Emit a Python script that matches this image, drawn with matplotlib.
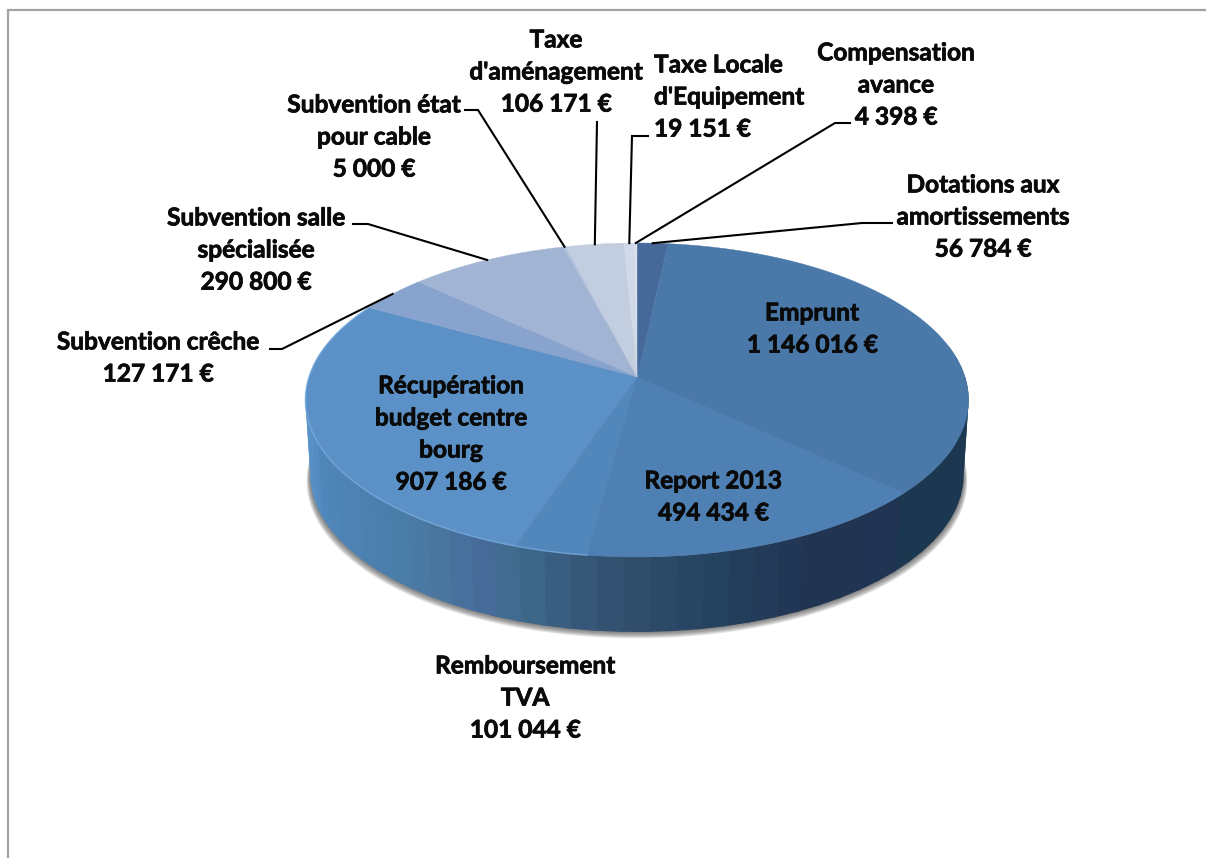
import matplotlib
matplotlib.use("Agg")
import matplotlib.pyplot as plt
import matplotlib.patheffects as pe
import numpy as np
from matplotlib.colors import to_rgb

plt.rcParams['font.family'] = ['Lato', 'DejaVu Sans']

# slices, clockwise from 12 o'clock
labels = ["Dotations aux\namortissements", "Emprunt", "Report 2013", "Remboursement\nTVA",
          "Récupération\nbudget centre\nbourg", "Subvention crêche", "Subvention salle\nspécialisée",
          "Subvention état\npour cable", "Taxe\nd'aménagement", "Taxe Locale\nd'Equipement",
          "Compensation\navance"]
amounts = [56784, 1146016, 494434, 101044, 907186, 127171, 290800, 5000, 106171, 19151, 4398]
amount_text = ["56 784 €", "1 146 016 €", "494 434 €", "101 044 €", "907 186 €", "127 171 €",
               "290 800 €", "5 000 €", "106 171 €", "19 151 €", "4 398 €"]
top_colors = ["#46699a", "#4a78a8", "#4f80b3", "#5287bc", "#5b91c6", "#87a3ce",
              "#a2b4d4", "#aebedb", "#c2cde0", "#d0d9e8", "#d8dfec"]

# label block centres in pixels
label_pos = [(983, 217), (812, 329), (713, 497), (525, 698), (451, 434), (158, 358),
             (256, 250), (374, 137), (556, 72), (654, 97), (896, 85)]
# leader line start + elbow, None when the label sits without a leader
leader_pts = [[(892, 223), (862, 223)], None, None, None, None,
              [(270, 349), (282, 349)], [(353, 224), (368, 224)],
              [(465, 110), (478, 110)], [(597, 122)], [(648, 136), (632, 136)],
              [(850, 123), (835, 123)]]

# colour of the side wall going left to right, in pixels
wall_x = [305, 323, 390, 430, 473, 517, 567, 623, 673, 723, 807, 901, 903, 975]
wall_c = ["#5a93c8", "#4f86b8", "#4a7daa", "#4a789f", "#486b9a", "#3f6b8c", "#37597b", "#324f6d",
          "#2a4866", "#24405c", "#213553", "#213453", "#1b3850", "#1b3850"]

# perspective of the disc
CX, CY = 637, 377
A, B, K = 328, 153.6, 0.1465
DEPTH = 75


def project(theta, scale=1.0, drop=0):
    # theta in degrees clockwise from the top of the disc
    t = np.radians(theta)
    u, v = np.sin(t), np.cos(t)
    w = 1 + K * v
    return CX + scale * A * u / w, CY - B * v / w + drop


def wall_color(x):
    xs = np.array(wall_x)
    cs = np.array([to_rgb(c) for c in wall_c])
    return [np.interp(x, xs, cs[:, i]) for i in range(3)]


fig = plt.figure(figsize=(12.06, 8.58), dpi=100)
ax = fig.add_axes([0, 0, 1, 1])
ax.set_xlim(0, 1206)
ax.set_ylim(858, 0)
ax.axis('off')

# frame of the original, only left and top show
ax.plot([8, 8, 1206], [858, 10, 10], color="#a3a3a3", lw=1.6, solid_joinstyle='miter')

# soft shadow under the wall
circle = np.linspace(0, 360, 361)
for i in range(7, 0, -1):
    sx, sy = project(circle, scale=0.985 + i * 0.0016, drop=DEPTH + i * 0.9)
    ax.fill(sx, sy, color="#444444", alpha=0.13, lw=0)

# side wall as strips, overlapping so no seams show
edge = np.arange(78, 284, 4.0)
for a0, a1 in zip(edge[:-1], edge[1:]):
    mid = np.linspace(a0, a1 + 1.0, 8)
    tx, ty = project(mid)
    bx, by = project(mid[::-1], scale=0.985, drop=DEPTH)
    c = wall_color(tx.mean())
    ax.fill(np.r_[tx, bx], np.r_[ty, by], color=c, lw=0)

# top of the disc
angles = 360 * np.cumsum([0] + amounts) / sum(amounts)
for i in range(len(amounts)):
    arc = np.linspace(angles[i], angles[i + 1], 80)
    ax_x, ax_y = project(arc)
    ax.fill(np.r_[CX, ax_x], np.r_[CY, ax_y], color=top_colors[i], lw=0.3)

# light edge along the front left of the rim
arc = np.linspace(angles[3], angles[5], 160)
rx, ry = project(arc)
ax.plot(rx, ry, color="#7db0e4", lw=1.1, alpha=0.65)

# leaders end on the rim at the middle of their slice
for i, pts in enumerate(leader_pts):
    if pts is None:
        continue
    ex, ey = project((angles[i] + angles[i + 1]) / 2)
    xs = [p[0] for p in pts] + [ex]
    ys = [p[1] for p in pts] + [ey]
    ax.plot(xs, ys, color="#000000", lw=1.5, solid_joinstyle='miter')

heavier = [pe.withStroke(linewidth=0.55, foreground="#0a0a0a")]
for i in range(len(labels)):
    # the Taxe Locale block is flush left in the original
    flush = labels[i].startswith("Taxe Locale")
    ax.text(label_pos[i][0], label_pos[i][1], labels[i] + "\n" + amount_text[i],
            ha='left' if flush else 'center', va='center',
            multialignment='left' if flush else 'center',
            fontsize=17.6, fontweight='bold', color="#0a0a0a", linespacing=1.48,
            path_effects=heavier)

fig.savefig("out.png", dpi=100)
